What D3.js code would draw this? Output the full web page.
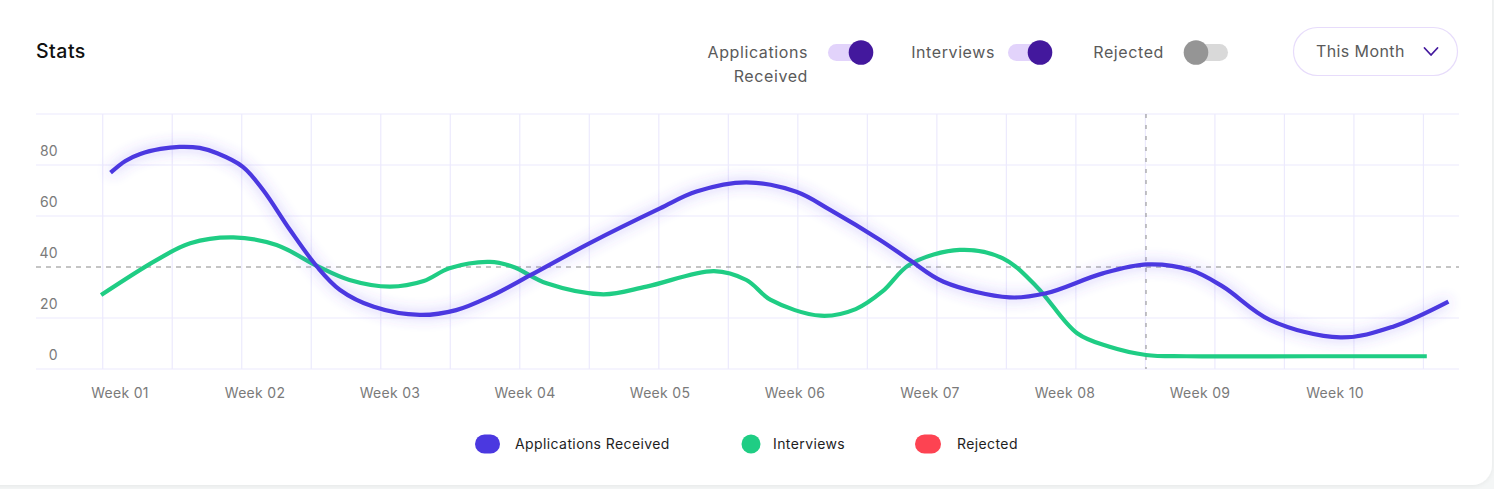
<!DOCTYPE html>
<html>
<head>
<meta charset="utf-8">
<script src="https://cdn.jsdelivr.net/npm/d3@7"></script>
<style>
  html, body { margin: 0; padding: 0; background: #f4f6f6; }
  svg { display: block; font-family: Inter, "Open Sans", sans-serif; }
</style>
</head>
<body>
<svg id="chart" width="1494" height="489"></svg>
<script>
// ---------- data ----------
const weekLabels = ["Week 01","Week 02","Week 03","Week 04","Week 05","Week 06","Week 07","Week 08","Week 09","Week 10"];
const yTicks = [0, 20, 40, 60, 80];
const seriesNames = ["Applications Received", "Interviews", "Rejected"];
const seriesColors = ["#4b38e0", "#1fcd84", "#fd4352"];

// Applications Received: position in weeks, value
const appWeeks  = [0.93,1.04,1.15,1.30,1.44,1.59,1.72,1.91,2.06,2.26,2.46,2.63,2.88,3.22,3.49,3.74,4.04,4.48,5.00,5.27,5.64,6.01,6.26,6.63,6.85,7.10,7.59,7.86,8.28,8.61,8.93,9.17,9.52,10.04,10.43,10.84];
const appValues = [77.0,81.6,84.3,86.3,87.1,86.7,84.6,79.3,70.2,54.5,40.1,31.0,24.4,21.2,23.1,28.4,36.8,49.4,63.0,69.6,73.2,69.5,62.4,50.6,42.7,34.2,28.1,29.7,37.5,41.0,38.8,32.3,19.2,12.4,16.6,26.4];

// Interviews
const intWeeks  = [0.86,1.27,1.52,1.84,2.16,2.46,2.70,3.00,3.25,3.44,3.74,3.91,4.16,4.58,4.90,5.40,5.64,5.82,6.19,6.45,6.65,6.85,7.22,7.54,7.79,8.09,8.33,8.60,8.90,9.80,10.68];
const intValues = [29.0,42.7,49.3,51.6,48.6,40.4,34.9,32.3,34.5,39.5,42.0,40.1,33.6,29.3,32.3,38.4,34.9,27.1,20.9,23.5,30.5,41.0,46.7,43.4,32.3,14.0,8.7,5.5,5.0,5.0,5.0];

// crosshair
const crossWeek = 8.6;
const crossValue = 40;

// ---------- scales ----------
const svg = d3.select("#chart");
const x = d3.scaleLinear().domain([1, 10]).range([120, 1335]);
const y = d3.scaleLinear().domain([0, 100]).range([369, 114]);
const plotLeft = 36, plotRight = 1459;

// card
const defs = svg.append("defs");
const sh = defs.append("filter").attr("id","cardShadow").attr("x","-5%").attr("y","-5%").attr("width","110%").attr("height","115%");
sh.append("feDropShadow").attr("dx",0).attr("dy",1).attr("stdDeviation",2).attr("flood-color","#000").attr("flood-opacity",0.06);
const glow = defs.append("filter").attr("id","glow").attr("x","-10%").attr("y","-30%").attr("width","120%").attr("height","160%");
glow.append("feDropShadow").attr("dx",0).attr("dy",0).attr("stdDeviation",7).attr("flood-color","#5a44f2").attr("flood-opacity",0.45);

svg.append("rect").attr("x",-30).attr("y",-30).attr("width",1522).attr("height",515)
  .attr("rx",20).attr("fill","#fff").attr("filter","url(#cardShadow)");

// header
svg.append("text").attr("x",36).attr("y",58).attr("font-size",19.5).attr("font-weight",500)
  .attr("letter-spacing",0.5).attr("fill","#111").text("Stats");

function toggle(lines, textRight, trackX, knobX, on) {
  const g = svg.append("g");
  lines.forEach((t, i) => {
    g.append("text").attr("x", textRight).attr("y", 58 + i*24).attr("text-anchor","end")
      .attr("font-size",16).attr("letter-spacing",0.6).attr("fill","#5a5a5a").text(t);
  });
  g.append("rect").attr("x", trackX).attr("y", 44).attr("width", 44).attr("height", 17).attr("rx", 8.5)
    .attr("fill", on ? "#e2d3fb" : "#d9d9d9");
  g.append("circle").attr("cx", knobX).attr("cy", 52.5).attr("r", 12.3)
    .attr("fill", on ? "#43189d" : "#959595");
}
toggle(["Applications","Received"], 808, 828, 861, true);
toggle(["Interviews"], 995, 1008, 1040, true);
toggle(["Rejected"], 1164, 1184, 1196, false);

// dropdown
svg.append("rect").attr("x",1293.5).attr("y",27.5).attr("width",164).attr("height",48).attr("rx",24)
  .attr("fill","#fff").attr("stroke","#e7dcfb").attr("stroke-width",1.2);
svg.append("text").attr("x",1316).attr("y",57).attr("font-size",16).attr("letter-spacing",0.4)
  .attr("fill","#5a5a5a").text("This Month");
svg.append("path").attr("d","M1424.5,48 L1431,55 L1437.5,48").attr("fill","none")
  .attr("stroke","#43189d").attr("stroke-width",1.8).attr("stroke-linecap","round").attr("stroke-linejoin","round");

// ---------- grid ----------
const gridColor = "#eceafd";
const grid = svg.append("g");
[0, 20, 60, 80, 100].forEach(v => {
  grid.append("line").attr("x1",plotLeft).attr("x2",plotRight).attr("y1",y(v)).attr("y2",y(v))
    .attr("stroke",gridColor).attr("stroke-width",1.2);
});
const colStart = 0.872, colStep = 0.5149;
d3.range(20).forEach(k => {
  const gx = x(colStart + k*colStep);
  grid.append("line").attr("x1",gx).attr("x2",gx).attr("y1",y(100)).attr("y2",y(0))
    .attr("stroke",gridColor).attr("stroke-width",1.2);
});

// y labels
svg.append("g").selectAll("text").data(yTicks).join("text")
  .attr("x",58).attr("y",d => y(d) - 9.5).attr("text-anchor","end")
  .attr("font-size",14).attr("letter-spacing",0.3).attr("fill","#7a7a7a").text(d => d);

// x labels
svg.append("g").selectAll("text").data(weekLabels).join("text")
  .attr("x",(d,i) => x(i+1)).attr("y",398).attr("text-anchor","middle")
  .attr("font-size",14).attr("letter-spacing",0.3).attr("fill","#7a7a7a").text(d => d);

// crosshair
svg.append("line").attr("x1",plotLeft).attr("x2",plotRight).attr("y1",y(crossValue)).attr("y2",y(crossValue))
  .attr("stroke","#8a8a8a").attr("stroke-width",1).attr("stroke-dasharray","5,5");
svg.append("line").attr("x1",x(crossWeek)).attr("x2",x(crossWeek)).attr("y1",y(100)).attr("y2",y(0))
  .attr("stroke","#8a8a8a").attr("stroke-width",1).attr("stroke-dasharray","4,7");

// ---------- lines ----------
const line = d3.line().x(d => x(d[0])).y(d => y(d[1])).curve(d3.curveCatmullRom.alpha(0.5));
const intData = intWeeks.map((w,i) => [w, intValues[i]]);
const appData = appWeeks.map((w,i) => [w, appValues[i]]);

svg.append("path").attr("d", line(intData)).attr("fill","none").attr("stroke",seriesColors[1])
  .attr("stroke-width",4.2);
svg.append("path").attr("d", line(appData)).attr("fill","none").attr("stroke",seriesColors[0])
  .attr("stroke-width",4.2).attr("filter","url(#glow)");

// ---------- legend ----------
const legendItems = [
  {name: seriesNames[0], color: seriesColors[0], cx: 487.5, w: 25, tx: 515},
  {name: seriesNames[1], color: seriesColors[1], cx: 751,   w: 19, tx: 773},
  {name: seriesNames[2], color: seriesColors[2], cx: 928,   w: 26, tx: 957}
];
const lg = svg.append("g");
legendItems.forEach(it => {
  lg.append("rect").attr("x", it.cx - it.w/2).attr("y", 434.5).attr("width", it.w).attr("height", 19)
    .attr("rx", 9.5).attr("fill", it.color);
  lg.append("text").attr("x", it.tx).attr("y", 449).attr("font-size", 14).attr("letter-spacing",0.4)
    .attr("fill","#1e1e1e").text(it.name);
});
</script>
</body>
</html>
